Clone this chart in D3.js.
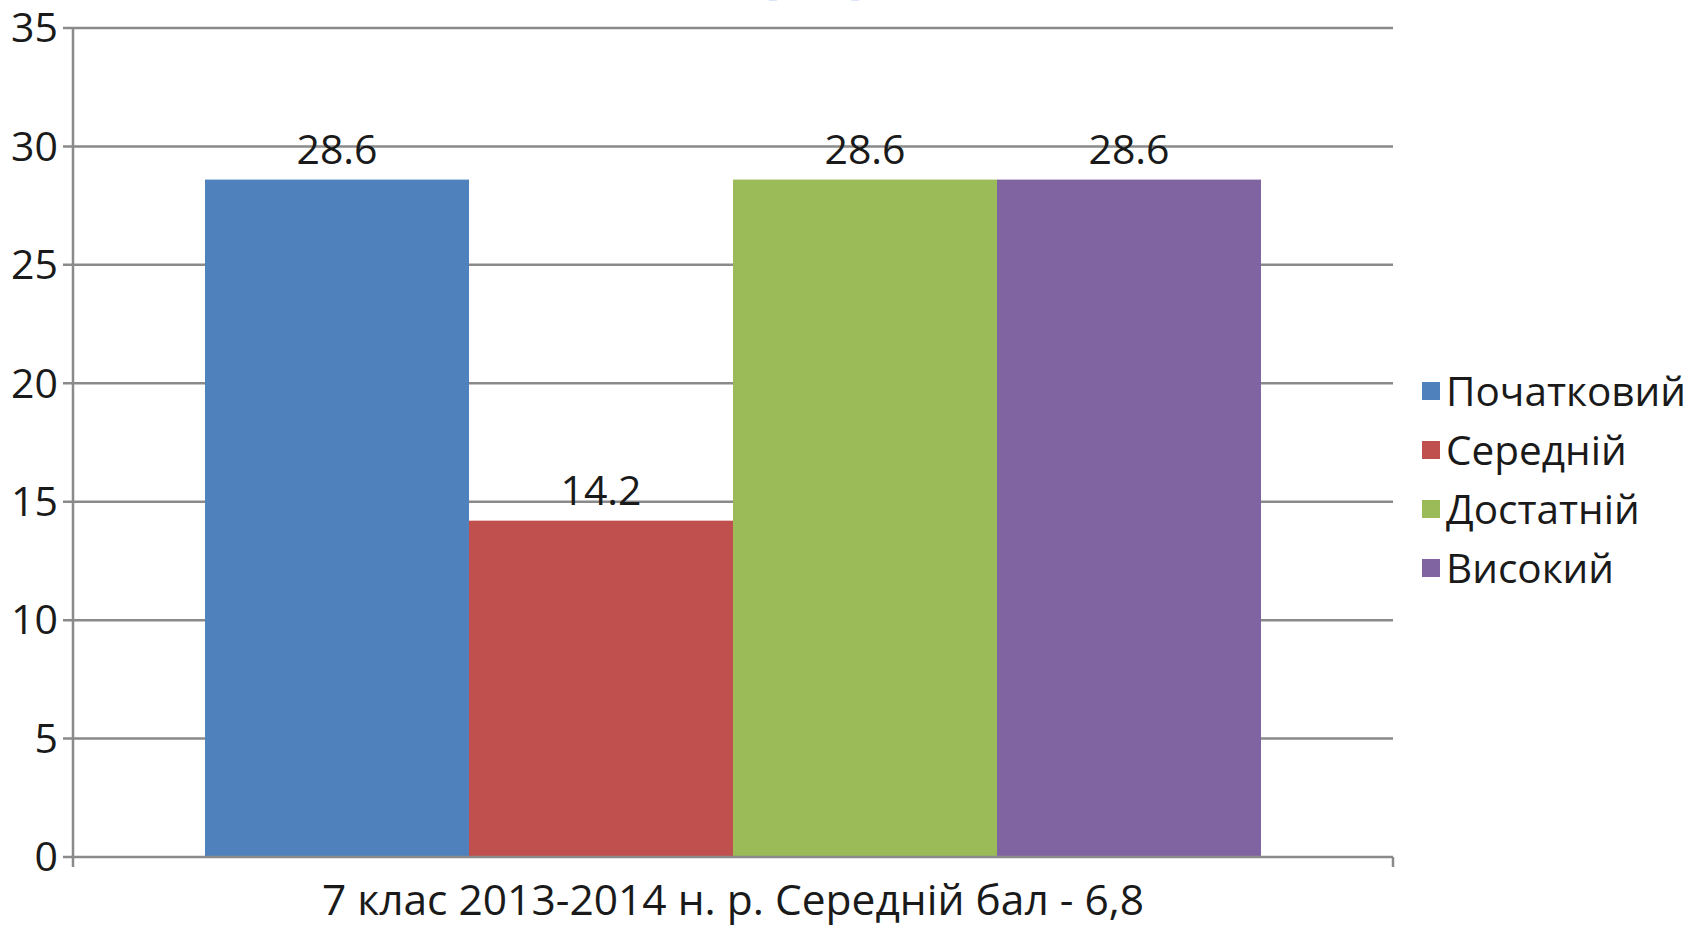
<!DOCTYPE html>
<html>
<head>
<meta charset="utf-8">
<script src="https://cdn.jsdelivr.net/npm/d3@7"></script>
<style>
  body { margin: 0; background: #fff; }
  svg { display: block; }
</style>
</head>
<body>
<div id="chartContainer"></div>
<script>
// --- data ---
const groupLabel = "7 клас 2013-2014 н. р. Середній бал - 6,8";
const categories = ["Початковий", "Середній", "Достатній", "Високий"];
const values = [28.6, 14.2, 28.6, 28.6];
const colors = ["#4F81BD", "#C0504D", "#9BBB59", "#8064A2"];
const yTicks = [0, 5, 10, 15, 20, 25, 30, 35];

(function() {
    const fullWidth = 1707;
    const fullHeight = 927;
    const margin = {top: 28, right: 314, bottom: 70, left: 73};
    const width = fullWidth - margin.left - margin.right;   // 1320
    const height = fullHeight - margin.top - margin.bottom; // 829
    const font = "'Open Sans', sans-serif";
    const gridColor = "#8a8a8a";

    const svg = d3.select("#chartContainer").append("svg")
        .attr("width", fullWidth)
        .attr("height", fullHeight);

    // faint title marks, cut off at the very top like in the source image
    svg.selectAll("text.cut")
        .data(["(", ")"])
        .join("text")
        .attr("class", "cut")
        .attr("x", (d, i) => i === 0 ? 768 : 860)
        .attr("y", -10)
        .attr("text-anchor", "middle")
        .style("font-family", font)
        .style("font-size", "64px")
        .style("font-weight", "bold")
        .style("fill", "#bcd0f5")
        .text(d => d);

    const g = svg.append("g")
        .attr("transform", `translate(${margin.left},${margin.top})`);

    const y = d3.scaleLinear().domain([0, 35]).range([height, 0]);

    const x0 = d3.scaleBand()
        .domain([groupLabel])
        .range([0, width])
        .paddingInner(0.2)
        .paddingOuter(0.1);

    const x1 = d3.scaleBand()
        .domain(categories)
        .range([0, x0.bandwidth()]);

    // gridlines (with outward tick stubs)
    g.append("g")
        .selectAll("line")
        .data(yTicks.filter(d => d !== 0))
        .join("line")
        .attr("x1", -10)
        .attr("x2", width)
        .attr("y1", d => y(d))
        .attr("y2", d => y(d))
        .attr("stroke", gridColor)
        .attr("stroke-width", 2.5);

    // y tick labels
    g.append("g")
        .selectAll("text")
        .data(yTicks)
        .join("text")
        .attr("x", -15)
        .attr("y", d => y(d))
        .attr("dy", "0.35em")
        .attr("text-anchor", "end")
        .style("font-family", font)
        .style("font-size", "41px")
        .style("fill", "#1a1a1a")
        .text(d => d);

    // bars
    const group = g.append("g")
        .attr("transform", `translate(${x0(groupLabel)},0)`);

    group.selectAll("rect")
        .data(categories)
        .join("rect")
        .attr("x", d => x1(d))
        .attr("width", x1.bandwidth())
        .attr("y", (d, i) => y(values[i]))
        .attr("height", (d, i) => height - y(values[i]))
        .attr("fill", (d, i) => colors[i]);

    // value labels
    group.selectAll("text")
        .data(categories)
        .join("text")
        .attr("x", d => x1(d) + x1.bandwidth() / 2)
        .attr("y", (d, i) => y(values[i]) - 16)
        .attr("text-anchor", "middle")
        .style("font-family", font)
        .style("font-size", "41px")
        .style("fill", "#1a1a1a")
        .text((d, i) => values[i].toFixed(1));

    // axes lines
    g.append("line")
        .attr("x1", 0).attr("x2", 0)
        .attr("y1", 0).attr("y2", height + 10)
        .attr("stroke", gridColor)
        .attr("stroke-width", 2.5);

    g.append("line")
        .attr("x1", -10).attr("x2", width)
        .attr("y1", height).attr("y2", height)
        .attr("stroke", gridColor)
        .attr("stroke-width", 2.5);

    g.append("line")
        .attr("x1", width).attr("x2", width)
        .attr("y1", height).attr("y2", height + 10)
        .attr("stroke", gridColor)
        .attr("stroke-width", 2.5);

    // category label
    g.append("text")
        .attr("x", x0(groupLabel) + x0.bandwidth() / 2)
        .attr("y", height + 58)
        .attr("text-anchor", "middle")
        .style("font-family", font)
        .style("font-size", "42.5px")
        .style("fill", "#1a1a1a")
        .text(groupLabel);

    // legend
    const legend = svg.append("g")
        .attr("transform", "translate(1422,382)");

    const item = legend.selectAll("g")
        .data(categories)
        .join("g")
        .attr("transform", (d, i) => `translate(0,${i * 59})`);

    item.append("rect")
        .attr("width", 18)
        .attr("height", 18)
        .attr("fill", (d, i) => colors[i]);

    item.append("text")
        .attr("x", 24)
        .attr("y", 24)
        .style("font-family", font)
        .style("font-size", "40.5px")
        .style("fill", "#1a1a1a")
        .text(d => d);
})();
</script>
</body>
</html>
